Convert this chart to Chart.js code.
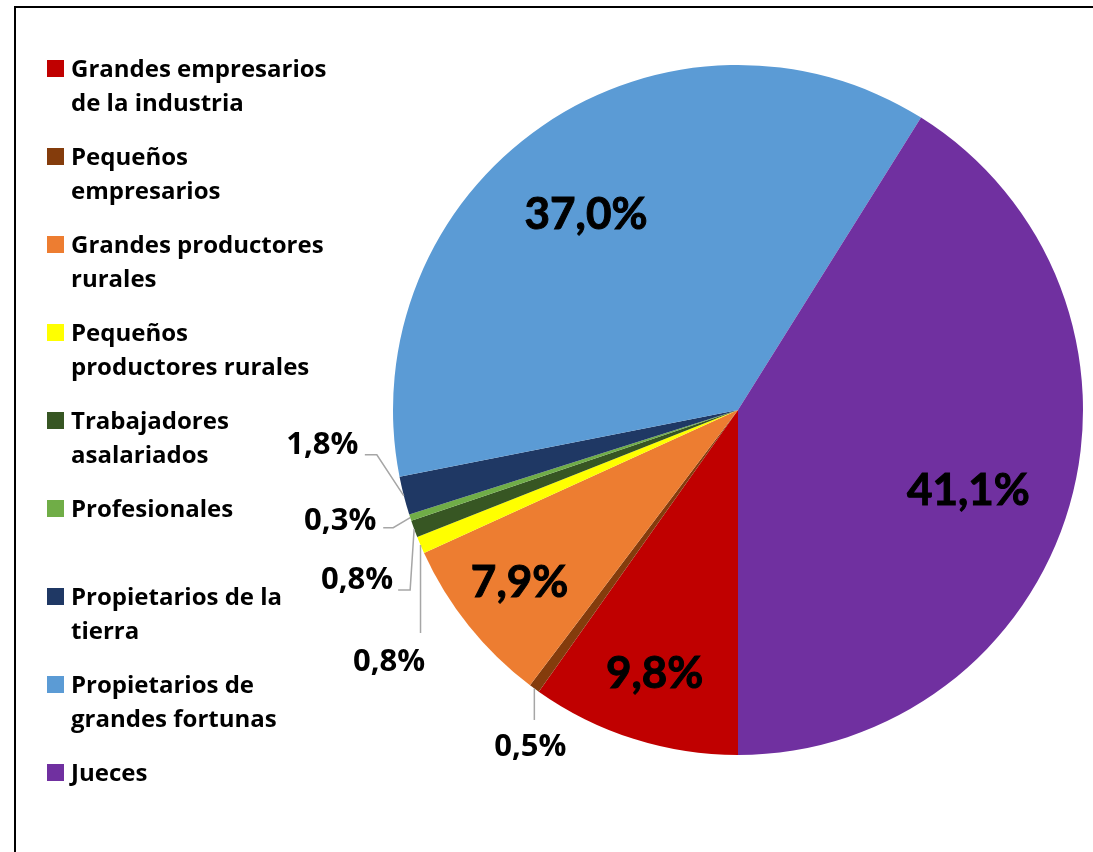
<!DOCTYPE html>
<html lang="es">
<head>
<meta charset="UTF-8">
<title>Distribución</title>
<script src="https://cdn.jsdelivr.net/npm/chart.js"></script>
<style>
  body { margin: 0; background: #fff; }
  #wrap { position: relative; width: 1093px; height: 852px; overflow: hidden; }
  #frame {
    position: absolute; left: 14px; top: 6px; width: 1200px; height: 1000px;
    border-top: 2px solid #000; border-left: 2px solid #000;
  }
  canvas { position: absolute; left: 0; top: 0; }
</style>
</head>
<body>
<div id="wrap">
  <div id="frame"></div>
  <canvas id="chart" width="1093" height="852"></canvas>
</div>
<script>
// categories (legend lines) and values, in drawing order from 6 o'clock clockwise
const categories = [
  ["Grandes empresarios", "de la industria"],
  ["Pequeños", "empresarios"],
  ["Grandes productores", "rurales"],
  ["Pequeños", "productores rurales"],
  ["Trabajadores", "asalariados"],
  ["Profesionales"],
  ["Propietarios de la", "tierra"],
  ["Propietarios de", "grandes fortunas"],
  ["Jueces"]
];
const values = [9.8, 0.5, 7.9, 0.8, 0.8, 0.3, 1.8, 37.0, 41.1];
const colors = ["#C00000", "#843C0C", "#ED7D31", "#FFFF00", "#375623",
                "#70AD47", "#1F3864", "#5B9BD5", "#7030A0"];

// label placement: inside labels as radius fraction + angle shift (deg),
// outside labels as leader path + text offset from the slice's outer mid point
const labelPlace = [
  { inside: true, r: 0.797, da: 0 },
  { path: [[0, 31.5]], text: [-4, 56] },
  { inside: true, r: 0.804, da: 0.65 },
  { path: [[0, 88]], text: [-31.5, 115] },
  { path: [[-4, 61], [-16, 61]], text: [-57, 49] },
  { path: [[-17, 10], [-27, 10]], text: [-70, 1] },
  { path: [[-27, -41], [-39, -41]], text: [-81.5, -53] },
  { inside: true, r: 0.72, da: -3.16 },
  { inside: true, r: 0.706, da: 2.9 }
];

const BIG_FONT = "Lato, 'Open Sans', sans-serif";
const SMALL_FONT = "'Open Sans', Lato, sans-serif";

function fmt(v) { return v.toFixed(1).replace('.', ',') + '%'; }

const labelsPlugin = {
  id: 'pieLabels',
  afterDatasetsDraw(chart) {
    const ctx = chart.ctx;
    const arcs = chart.getDatasetMeta(0).data;
    ctx.save();
    arcs.forEach((arc, i) => {
      const p = arc.getProps(['x', 'y', 'startAngle', 'endAngle', 'outerRadius'], true);
      const mid = (p.startAngle + p.endAngle) / 2;
      const pl = labelPlace[i];
      let tx, ty, size, font;
      if (pl.inside) {
        const a = mid + pl.da * Math.PI / 180;
        tx = p.x + Math.cos(a) * p.outerRadius * pl.r;
        ty = p.y + Math.sin(a) * p.outerRadius * pl.r;
        size = 44;
        font = BIG_FONT;
      } else {
        const ex = p.x + Math.cos(mid) * p.outerRadius;
        const ey = p.y + Math.sin(mid) * p.outerRadius;
        ctx.strokeStyle = '#A6A6A6';
        ctx.lineWidth = 1.5;
        ctx.beginPath();
        ctx.moveTo(ex, ey);
        pl.path.forEach(pt => ctx.lineTo(ex + pt[0], ey + pt[1]));
        ctx.stroke();
        tx = ex + pl.text[0];
        ty = ey + pl.text[1];
        size = 31;
        font = SMALL_FONT;
      }
      ctx.fillStyle = '#000';
      ctx.strokeStyle = '#000';
      ctx.font = 'bold ' + size + 'px ' + font;
      ctx.textAlign = 'center';
      ctx.textBaseline = 'alphabetic';
      const by = ty + size * 0.36;
      ctx.fillText(fmt(values[i]), tx, by);
      if (pl.inside) {
        ctx.lineWidth = 1;
        ctx.strokeText(fmt(values[i]), tx, by);
      }
    });
    ctx.restore();
  }
};

const legendPlugin = {
  id: 'sideLegend',
  afterDraw(chart) {
    const ctx = chart.ctx;
    ctx.save();
    ctx.font = 'bold 24px ' + SMALL_FONT;
    ctx.textAlign = 'left';
    ctx.textBaseline = 'alphabetic';
    categories.forEach((lines, i) => {
      const base = 77 + i * 88;
      ctx.fillStyle = colors[i];
      ctx.fillRect(47, base - 17, 17, 17);
      ctx.fillStyle = '#000';
      lines.forEach((ln, j) => ctx.fillText(ln, 71, base + j * 34));
    });
    ctx.restore();
  }
};

new Chart(document.getElementById('chart'), {
  type: 'pie',
  data: {
    labels: categories.map(l => l.join(' ')),
    datasets: [{
      data: values,
      backgroundColor: colors,
      borderWidth: 0
    }]
  },
  options: {
    responsive: false,
    animation: false,
    rotation: 180,
    layout: { padding: { left: 393, right: 10, top: 65, bottom: 97 } },
    plugins: {
      legend: { display: false },
      tooltip: { enabled: false }
    }
  },
  plugins: [labelsPlugin, legendPlugin]
});
</script>
</body>
</html>
